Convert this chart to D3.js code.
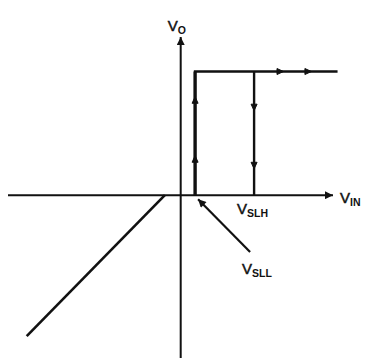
<!DOCTYPE html>
<html>
<head>
<meta charset="utf-8">
<script src="https://cdn.jsdelivr.net/npm/d3@7"></script>
<style>
  body { margin: 0; background: #fff; }
  svg { display: block; }
  text { font-family: "Liberation Sans", Arial, sans-serif; fill: #111; }
</style>
</head>
<body>
<svg id="chart" width="365" height="358"></svg>
<script>
// transfer curve (in volts)
var v_sll = 0.5
var v_slh = 2.55
var v_oh = 4.3
var x_end = 5.45
// hysteresis loop path: up at VSLL, across the top, down at VSLH
var loop_x = [x_end, v_sll, v_sll]
var loop_y = [v_oh, v_oh, 0]
var drop_x = [v_slh, v_slh]
var drop_y = [v_oh, 0]
// negative input branch
var neg_x = [-0.55, -5.35]
var neg_y = [0, -4.9]
// direction markers
var up_marks = [1.25, 3.3]
var down_marks = [3.06, 1.04]
var right_marks = [3.45, 4.42]

const svg = d3.select("#chart")
const x = d3.scaleLinear().domain([-6, 5.5]).range([8, 339])
const y = d3.scaleLinear().domain([-5.66, 5.5]).range([358, 37])

var ink = "#111"

svg.append("defs").append("marker")
    .attr("id", "head")
    .attr("viewBox", "0 0 10 10")
    .attr("refX", 10).attr("refY", 5)
    .attr("markerWidth", 10).attr("markerHeight", 8)
    .attr("markerUnits", "userSpaceOnUse")
    .attr("orient", "auto")
  .append("path")
    .attr("d", "M0,0L10,5L0,10Z")
    .attr("fill", ink)

// axes
svg.append("line")
    .attr("x1", x(-6)).attr("y1", y(0))
    .attr("x2", 333).attr("y2", y(0))
    .attr("stroke", ink).attr("stroke-width", 2)
    .attr("marker-end", "url(#head)")
svg.append("line")
    .attr("x1", x(0)).attr("y1", y(-5.66))
    .attr("x2", x(0)).attr("y2", y(5.5))
    .attr("stroke", ink).attr("stroke-width", 2)
    .attr("marker-end", "url(#head)")

var line = d3.line().x(d => x(d[0])).y(d => y(d[1]))

svg.append("path")
    .attr("d", line(d3.zip(loop_x, loop_y)))
    .attr("fill", "none").attr("stroke", ink).attr("stroke-width", 2.5)
svg.append("line")
    .attr("x1", x(v_sll)).attr("y1", y(v_oh))
    .attr("x2", x(v_sll)).attr("y2", y(0))
    .attr("stroke", ink).attr("stroke-width", 3.2)
svg.append("path")
    .attr("d", line(d3.zip(drop_x, drop_y)))
    .attr("fill", "none").attr("stroke", ink).attr("stroke-width", 2.4)
svg.append("path")
    .attr("d", line(d3.zip(neg_x, neg_y)))
    .attr("fill", "none").attr("stroke", ink).attr("stroke-width", 2.6)

// small arrow marks along the loop
var tri = function (cx, cy, angle) {
    svg.append("path")
        .attr("d", "M-3,-3L3.5,0L-3,3Z")
        .attr("transform", `translate(${cx},${cy}) rotate(${angle})`)
        .attr("fill", ink).attr("stroke", ink).attr("stroke-width", 1)
        .attr("stroke-linejoin", "round")
}
up_marks.forEach(v => tri(x(v_sll), y(v), -90))
down_marks.forEach(v => tri(x(v_slh), y(v), 90))
right_marks.forEach(v => tri(x(v), y(v_oh), 0))

// labels
var label = function (px, py, main, sub) {
    var t = svg.append("text").attr("x", px).attr("y", py)
    t.append("tspan").text(main).style("font-size", "15px")
        .attr("stroke", "#111").attr("stroke-width", 0.5)
    t.append("tspan").text(sub).attr("dy", 3)
        .style("font-size", "10.5px").style("font-weight", "bold")
}
label(x(0) - 13, 31, "V", "O")
label(340, 203, "V", "IN")
label(x(v_slh) - 17, 214, "V", "SLH")
label(x(v_sll) + 47, 274, "V", "SLL")

// pointer to VSLL
svg.append("line")
    .attr("x1", x(v_sll) + 55).attr("y1", 252)
    .attr("x2", x(v_sll) + 3).attr("y2", y(0) + 4)
    .attr("stroke", ink).attr("stroke-width", 2.2)
    .attr("marker-end", "url(#head)")
</script>
</body>
</html>
